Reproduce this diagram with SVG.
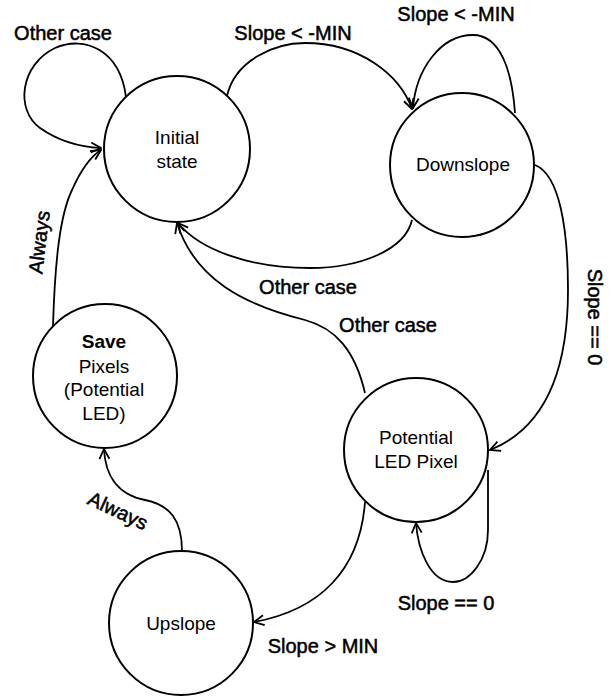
<svg xmlns="http://www.w3.org/2000/svg" width="613" height="697" viewBox="0 0 613 697">
<style>
.node circle{fill:#fff;stroke:#000;stroke-width:2}
.nt{font-family:"Liberation Sans",Arial,sans-serif;font-size:19px;fill:#000;text-anchor:middle}
.lbl{font-family:"Liberation Sans",Arial,sans-serif;font-size:20px;fill:#000;stroke:#000;stroke-width:0.5;text-anchor:middle}
.edge{fill:none;stroke:#000;stroke-width:1.8;marker-end:url(#arr)}
</style>
<defs>
<marker id="arr" markerUnits="userSpaceOnUse" viewBox="0 0 12 12" markerWidth="12" markerHeight="12" refX="11" refY="6" orient="auto">
<path d="M1,1 L11,6 L1,11" fill="none" stroke="#000" stroke-width="1.8"/>
</marker>
</defs>
<rect width="613" height="697" fill="#fff"/>
<g id="connectors">
<path class="edge" d="M126,97 C120,50 85,35 55,48 C20,65 15,110 40,128 C60,142 80,147 101,148"/>
<path class="edge" d="M227,96 C235,60 275,43 305,43 C360,43 400,75 412,109"/>
<path class="edge" d="M515,113 C512,70 500,35 473,35 C440,35 416,70 413,108"/>
<path class="edge" d="M412,220 C405,250 360,268 310,268 C250,268 200,250 178,223"/>
<path class="edge" d="M365,393 C355,350 335,328 305,320 C245,305 195,280 177,223"/>
<path class="edge" d="M535,165 C560,175 568,230 568,290 C568,380 540,430 490,450"/>
<path class="edge" d="M488,470 L488,530 C488,560 470,582 453,582 C430,582 418,550 416,523"/>
<path class="edge" d="M365,502 C360,570 320,610 254,622"/>
<path class="edge" d="M182,551 C182,520 170,505 145,500 C115,494 105,472 104,449"/>
<path class="edge" d="M53,326 C55,260 60,215 72,190 C80,172 90,157 101,150"/>
</g>
<g id="labels">
<text class="lbl" x="63" y="40">Other case</text>
<text class="lbl" x="293" y="40">Slope &lt; -MIN</text>
<text class="lbl" x="456" y="21">Slope &lt; -MIN</text>
<text class="lbl" x="308" y="294">Other case</text>
<text class="lbl" x="388" y="332">Other case</text>
<text class="lbl" transform="translate(588,317) rotate(90)">Slope == 0</text>
<text class="lbl" transform="translate(46,243) rotate(-83)">Always</text>
<text class="lbl" transform="translate(115,517) rotate(25)">Always</text>
<text class="lbl" x="323" y="653">Slope &gt; MIN</text>
<text class="lbl" x="446" y="610">Slope == 0</text>
</g>
<g id="initial" class="node">
<circle cx="177" cy="149" r="73"/>
<text class="nt" x="177" y="144">Initial</text>
<text class="nt" x="177" y="168">state</text>
</g>
<g id="downslope" class="node">
<circle cx="462" cy="165" r="72"/>
<text class="nt" x="463" y="171">Downslope</text>
</g>
<g id="save" class="node">
<circle cx="105" cy="376" r="72"/>
<text class="nt" x="104" y="348" font-weight="bold">Save</text>
<text class="nt" x="104" y="373">Pixels</text>
<text class="nt" x="104" y="396">(Potential</text>
<text class="nt" x="104" y="420">LED)</text>
</g>
<g id="potential" class="node">
<circle cx="416" cy="450" r="72"/>
<text class="nt" x="416" y="444">Potential</text>
<text class="nt" x="416" y="468">LED Pixel</text>
</g>
<g id="upslope" class="node">
<circle cx="181" cy="623" r="72"/>
<text class="nt" x="181" y="630">Upslope</text>
</g>
</svg>
